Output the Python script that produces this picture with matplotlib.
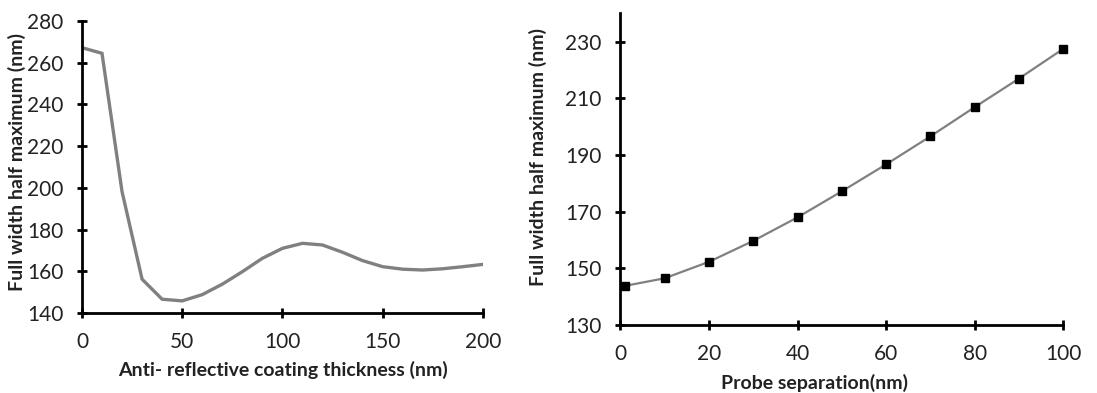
import matplotlib
matplotlib.use("Agg")
import matplotlib.pyplot as plt

plt.rcParams["font.family"] = ["Lato", "DejaVu Sans"]

# Left panel: FWHM vs anti-reflective coating thickness
coating_nm = [0, 10, 20, 30, 40, 50, 60, 70, 80, 90, 100,
              110, 120, 130, 140, 150, 160, 170, 180, 190, 200]
fwhm_coating = [267.2, 264.5, 198.2, 156.2, 146.6, 145.8, 148.8, 153.8, 159.8, 166.2, 171.0,
                173.4, 172.6, 169.1, 165.1, 162.2, 161.0, 160.6, 161.2, 162.2, 163.3]

# Right panel: FWHM vs probe separation
separation_nm = [1, 10, 20, 30, 40, 50, 60, 70, 80, 90, 100]
fwhm_separation = [143.8, 146.5, 152.3, 159.7, 168.0, 177.2, 186.7, 196.6, 206.9, 217.0, 227.5]

ylabel = "Full width half maximum (nm)"
label_kw = dict(fontsize=14, fontweight="bold", color="#222222", va="center")


def style_axes(ax):
    for side in ("top", "right"):
        ax.spines[side].set_visible(False)
    for side in ("left", "bottom"):
        ax.spines[side].set_linewidth(2)
    ax.tick_params(direction="inout", length=7, width=2, labelsize=15, colors="black")
    ax.tick_params(labelcolor="#222222")
    ax.tick_params(axis="x", pad=10)
    ax.tick_params(axis="y", pad=10)


fig = plt.figure(figsize=(10.97, 3.93), dpi=100)

ax1 = fig.add_axes([0.0747, 0.2036, 0.3655, 0.7430])
ax1.plot(coating_nm, fwhm_coating, color="#808080", linewidth=2.4, solid_joinstyle="miter")
ax1.set_xlim(0, 200)
ax1.set_ylim(140, 280)
ax1.set_xticks([0, 50, 100, 150, 200])
ax1.set_yticks(range(140, 281, 20))
ax1.set_xlabel("Anti- reflective coating thickness (nm)", **label_kw)
ax1.set_ylabel(ylabel, **label_kw)
ax1.xaxis.set_label_coords(0.501, -0.195)
ax1.yaxis.set_label_coords(-0.162, 0.517)
style_axes(ax1)

ax2 = fig.add_axes([0.5655, 0.173, 0.4038, 0.793])
ax2.plot(separation_nm, fwhm_separation, color="#808080", linewidth=1.6,
         marker="s", markersize=6, markerfacecolor="black", markeredgecolor="black",
         clip_on=False)
ax2.set_xlim(0, 100)
ax2.set_ylim(130, 240)
ax2.set_xticks(range(0, 101, 20))
ax2.set_yticks(range(130, 231, 20))
ax2.set_xlabel("Probe separation(nm)", **label_kw)
ax2.set_ylabel(ylabel, **label_kw)
ax2.xaxis.set_label_coords(0.438, -0.186)
ax2.yaxis.set_label_coords(-0.186, 0.539)
style_axes(ax2)

fig.savefig("out.png", dpi=100)
